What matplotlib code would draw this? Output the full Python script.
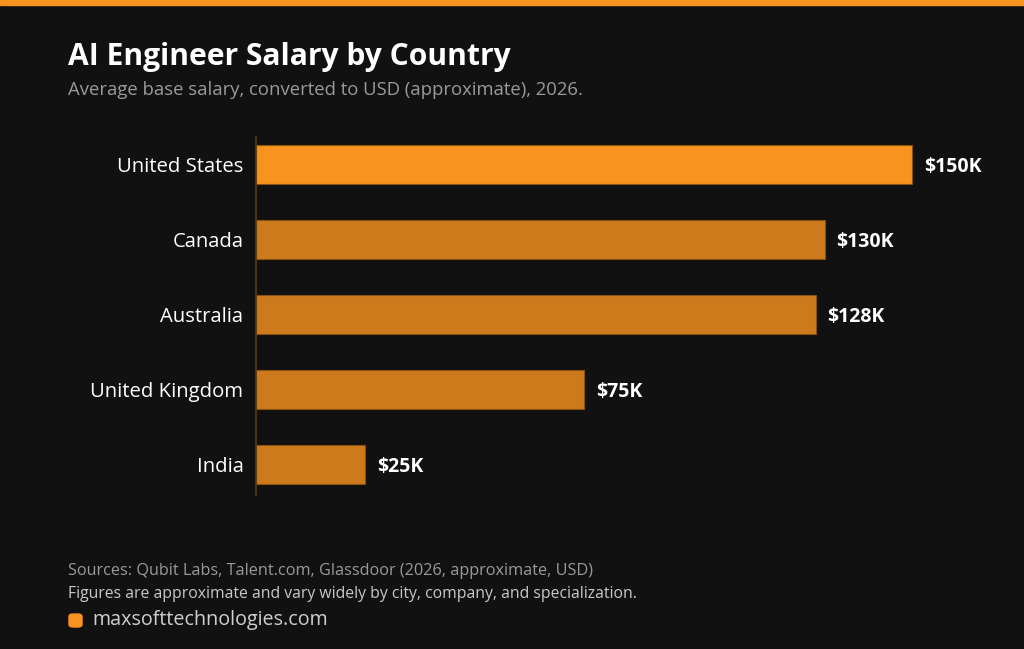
import matplotlib
matplotlib.use("Agg")
import matplotlib.pyplot as plt
from matplotlib.patches import FancyBboxPatch, Rectangle

countries = ["United States", "Canada", "Australia", "United Kingdom", "India"]
salaries = [150, 130, 128, 75, 25]
value_labels = ["$150K", "$130K", "$128K", "$75K", "$25K"]

title = "AI Engineer Salary by Country"
subtitle = "Average base salary, converted to USD (approximate), 2026."
source_note = "Sources: Qubit Labs, Talent.com, Glassdoor (2026, approximate, USD)"
caveat_note = "Figures are approximate and vary widely by city, company, and specialization."
brand = "maxsofttechnologies.com"

bg = "#111111"
orange = "#F7931E"
orange_dim = "#CD7A1C"
plt.rcParams["font.family"] = ["Open Sans", "DejaVu Sans"]

W, H = 1024, 649
fig = plt.figure(figsize=(W / 100, H / 100), dpi=100, facecolor=bg)

# orange strip on top
fig.patches.append(Rectangle((0, 1 - 5 / H), 1, 5 / H, transform=fig.transFigure,
                             color=orange, zorder=5))

# axes: left 256, right 984 px ; top 137, bottom 495 px
ax_l, ax_r, ax_t, ax_b = 256, 984, 137, 495
ax = fig.add_axes([ax_l / W, 1 - ax_b / H, (ax_r - ax_l) / W, (ax_b - ax_t) / H])
ax.set_facecolor(bg)

ypos = list(range(len(countries)))
colors = [orange] + [orange_dim] * (len(countries) - 1)
ax.barh(ypos, salaries, height=0.52, color=colors, edgecolor="#8a5210", linewidth=0.8)

ax.set_xlim(0, 150 * (ax_r - ax_l) / 656)
ax.set_ylim(4.4, -0.373)

for y, v, lab in zip(ypos, salaries, value_labels):
    ax.text(v + 2.7, y, lab, va="center_baseline", ha="left", color="white",
            fontsize=14, fontweight="bold")

ax.set_yticks(ypos)
ax.set_yticklabels(countries, color="white", fontsize=14.6)
ax.tick_params(axis="y", length=0, pad=9)
ax.set_xticks([])
for s in ["top", "right", "bottom"]:
    ax.spines[s].set_visible(False)
ax.spines["left"].set_color("#5a3a12")
ax.spines["left"].set_linewidth(1.2)

# titles
fig.text(68 / W, 1 - 57 / H, title, color="white", fontsize=21.6, fontweight="bold",
         va="center", ha="left")
fig.text(68 / W, 1 - 90 / H, subtitle, color="#9a9a9a", fontsize=13.3,
         va="center", ha="left")

# footer
fig.text(68 / W, 1 - 571 / H, source_note, color="#9a9a9a", fontsize=11.7,
         va="center", ha="left")
fig.text(68 / W, 1 - 594 / H, caveat_note, color="#c8c8c8", fontsize=11.3,
         va="center", ha="left")
fig.patches.append(FancyBboxPatch((69 / W, 1 - 627 / H), 13 / W, 13 / H,
                                  boxstyle="round,pad=0,rounding_size=0.004",
                                  transform=fig.transFigure, color=orange))
fig.text(92 / W, 1 - 620 / H, brand, color="#cfcfcf", fontsize=14.2,
         va="center", ha="left")

fig.savefig("out.png", dpi=100, facecolor=bg)
